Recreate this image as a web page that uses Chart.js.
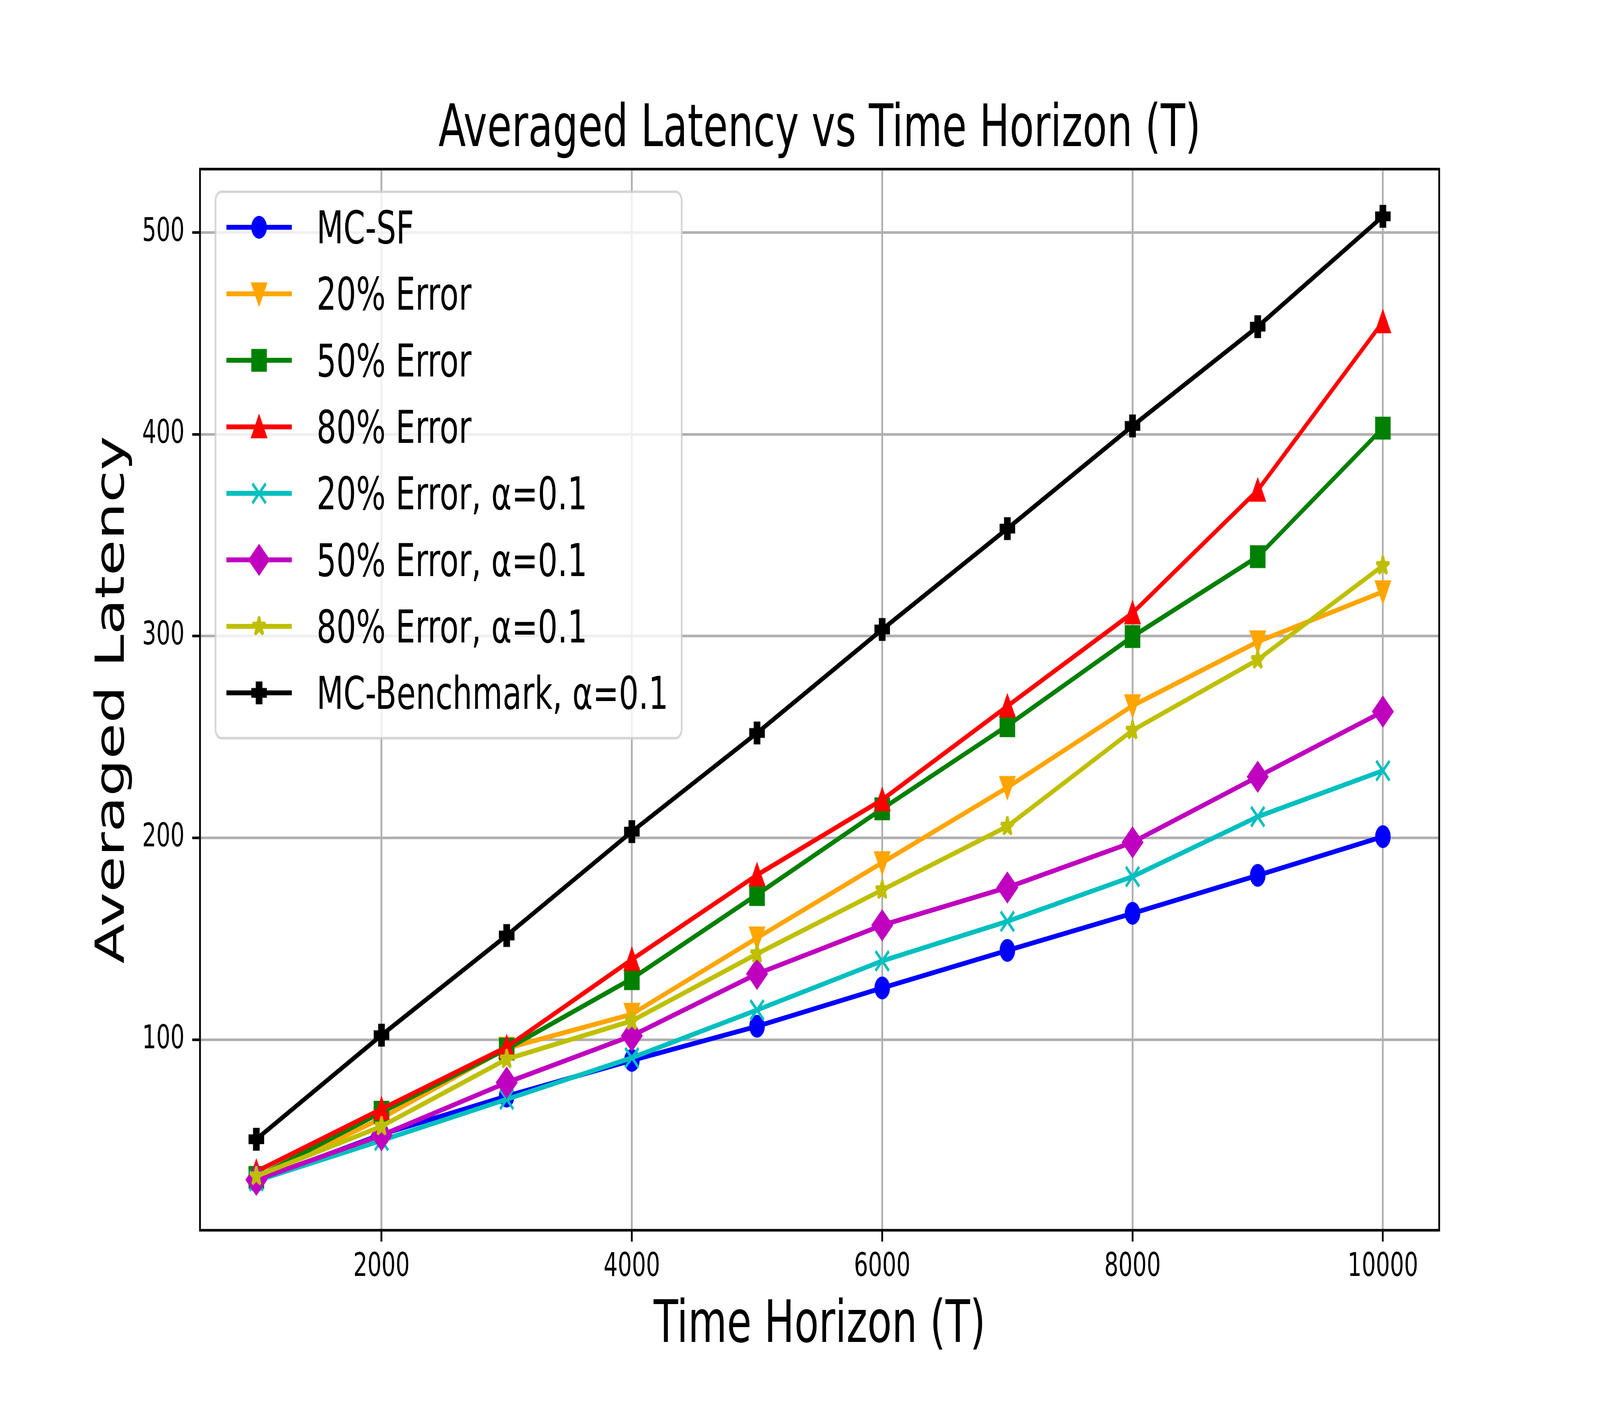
<!DOCTYPE html>
<html>
<head>
<meta charset="utf-8">
<script src="https://cdn.jsdelivr.net/npm/chart.js@4.4.1/dist/chart.umd.min.js"></script>
<style>
html,body{margin:0;padding:0;background:#fff;overflow:hidden;}
#c{display:block;}
</style>
</head>
<body>
<canvas id="c" width="6000" height="3600" style="width:100vw;height:100vh"></canvas>
<script>
// ---- data ----
const timeHorizon = [1000, 2000, 3000, 4000, 5000, 6000, 7000, 8000, 9000, 10000];
const mcSF        = [30, 53, 72, 89.7, 106.6, 125.6, 144.2, 162.6, 181.4, 200.6];
const err20       = [31, 61, 95.7, 112.6, 150.4, 187.7, 225, 265.5, 297.2, 322];
const err50       = [31.7, 64, 95.3, 130.2, 171.9, 214.4, 255.6, 299.8, 339.4, 403.1];
const err80       = [34.6, 65.6, 96.3, 139.7, 181.6, 218.9, 265.3, 311.5, 372.3, 455.8];
const err20a      = [30, 50, 70.4, 91, 114.7, 139, 158.6, 180.8, 210.5, 233.3];
const err50a      = [30.5, 52.6, 78.7, 101.9, 132.6, 156.7, 175.4, 197.8, 230.3, 262.6];
const err80a      = [32.3, 57, 90.3, 109.3, 142.5, 174.2, 205.7, 253.3, 288.3, 334.9];
const benchmark   = [50.6, 102.2, 151.6, 203.1, 252, 303.3, 353.3, 404.2, 453.4, 508.1];
const seriesLabels = ['MC-SF', '20% Error', '50% Error', '80% Error',
  '20% Error, α=0.1', '50% Error, α=0.1', '80% Error, α=0.1', 'MC-Benchmark, α=0.1'];
const seriesValues = [mcSF, err20, err50, err80, err20a, err50a, err80a, benchmark];
const xTicks = [2000, 4000, 6000, 8000, 10000];
const yTicks = [100, 200, 300, 400, 500];

// ---- styles ----
const seriesColors  = ['#0000ff', '#ffa500', '#008000', '#ff0000', '#00bfbf', '#bf00bf', '#bfbf00', '#000000'];
const seriesMarkers = ['o', 'v', 's', '^', 'x', 'D', '*', 'P'];
const FONT = "'DejaVu Sans'";
const MS = 50, EW = 8.333, LW = 12.5;

function makeMarker(kind, color) {
  const cv = document.createElement('canvas');
  cv.width = 100; cv.height = 100;
  const g = cv.getContext('2d');
  const c = 50, h = MS / 2;
  g.fillStyle = color; g.strokeStyle = color; g.lineWidth = EW; g.lineJoin = 'miter';
  g.beginPath();
  switch (kind) {
    case 'o': g.arc(c, c, h, 0, Math.PI * 2); break;
    case 'v': g.moveTo(c, c + h); g.lineTo(c - h, c - h); g.lineTo(c + h, c - h); g.closePath(); break;
    case '^': g.moveTo(c, c - h); g.lineTo(c - h, c + h); g.lineTo(c + h, c + h); g.closePath(); break;
    case 's': g.rect(c - h, c - h, MS, MS); break;
    case 'D': { const d = MS * Math.SQRT1_2; g.moveTo(c, c - d); g.lineTo(c + d, c); g.lineTo(c, c + d); g.lineTo(c - d, c); g.closePath(); break; }
    case '*': {
      g.lineJoin = 'bevel';
      const ri = h * 0.381966;
      for (let i = 0; i < 10; i++) {
        const r = (i % 2) ? ri : h;
        const a = -Math.PI / 2 + i * Math.PI / 5;
        const px = c + r * Math.cos(a), py = c + r * Math.sin(a);
        if (i) g.lineTo(px, py); else g.moveTo(px, py);
      }
      g.closePath(); break;
    }
    case 'P': {
      const pts = [[-1,-3],[1,-3],[1,-1],[3,-1],[3,1],[1,1],[1,3],[-1,3],[-1,1],[-3,1],[-3,-1],[-1,-1]];
      pts.forEach((p, i) => { const px = c + p[0] / 6 * MS, py = c + p[1] / 6 * MS; if (i) g.lineTo(px, py); else g.moveTo(px, py); });
      g.closePath(); break;
    }
    case 'x':
      g.lineCap = 'butt';
      g.moveTo(c - h, c - h); g.lineTo(c + h, c + h);
      g.moveTo(c - h, c + h); g.lineTo(c + h, c - h);
      g.stroke();
      return cv;
  }
  g.fill(); g.stroke();
  return cv;
}

const markerImgs = seriesMarkers.map((m, i) => makeMarker(m, seriesColors[i]));

const datasets = seriesValues.map((vals, i) => ({
  label: seriesLabels[i],
  data: timeHorizon.map((t, j) => ({ x: t, y: vals[j] })),
  borderColor: seriesColors[i],
  backgroundColor: seriesColors[i],
  borderWidth: LW,
  borderJoinStyle: 'round',
  borderCapStyle: 'square',
  pointStyle: markerImgs[i],
  pointRadius: 25,
  pointHoverRadius: 25,
  tension: 0,
  fill: false,
  order: seriesValues.length - i
}));

const framePlugin = {
  id: 'frame',
  afterDatasetsDraw(chart) {
    const { ctx, chartArea: a } = chart;
    ctx.save();
    ctx.strokeStyle = '#000';
    ctx.lineWidth = 6.67;
    ctx.lineJoin = 'miter';
    ctx.strokeRect(a.left, a.top, a.right - a.left, a.bottom - a.top);
    ctx.restore();
  }
};

const legendPlugin = {
  id: 'mplLegend',
  afterDraw(chart) {
    const { ctx, chartArea: a } = chart;
    const fs = 116.7;
    const x0 = a.left + 58, y0 = a.top + 58;
    const rowH = 170.3;
    const firstRow = y0 + 91;
    const lineX0 = x0 + 41, lineX1 = x0 + 286;
    const textX = x0 + 379;
    ctx.save();
    ctx.font = `normal ${fs}px ${FONT}`;
    let maxW = 0;
    seriesLabels.forEach(l => { maxW = Math.max(maxW, ctx.measureText(l).width); });
    const x1 = textX + maxW + 50;
    const y1 = firstRow + rowH * (seriesLabels.length - 1) + 116;
    const r = 23;
    ctx.beginPath();
    ctx.moveTo(x0 + r, y0);
    ctx.lineTo(x1 - r, y0); ctx.arcTo(x1, y0, x1, y0 + r, r);
    ctx.lineTo(x1, y1 - r); ctx.arcTo(x1, y1, x1 - r, y1, r);
    ctx.lineTo(x0 + r, y1); ctx.arcTo(x0, y1, x0, y1 - r, r);
    ctx.lineTo(x0, y0 + r); ctx.arcTo(x0, y0, x0 + r, y0, r);
    ctx.closePath();
    ctx.fillStyle = 'rgba(255,255,255,0.8)';
    ctx.fill();
    ctx.strokeStyle = 'rgba(204,204,204,0.8)';
    ctx.lineWidth = 6.67;
    ctx.stroke();
    seriesLabels.forEach((label, i) => {
      const yc = firstRow + i * rowH;
      ctx.beginPath();
      ctx.strokeStyle = seriesColors[i];
      ctx.lineWidth = LW;
      ctx.lineCap = 'butt';
      ctx.moveTo(lineX0, yc); ctx.lineTo(lineX1, yc);
      ctx.stroke();
      const img = markerImgs[i];
      ctx.drawImage(img, (lineX0 + lineX1) / 2 - img.width / 2, yc - img.height / 2);
      ctx.fillStyle = '#000';
      ctx.textAlign = 'left';
      ctx.textBaseline = 'alphabetic';
      ctx.fillText(label, textX, yc + 41);
    });
    ctx.restore();
  }
};

new Chart(document.getElementById('c'), {
  type: 'line',
  data: { datasets },
  plugins: [framePlugin, legendPlugin],
  options: {
    responsive: false,
    animation: false,
    devicePixelRatio: 1,
    events: [],
    layout: { padding: { left: 0, top: 0, right: 603, bottom: 0 } },
    plugins: {
      legend: { display: false },
      tooltip: { enabled: false },
      title: {
        display: true,
        text: 'Averaged Latency vs Time Horizon (T)',
        fullSize: false,
        color: '#000',
        font: { family: FONT, size: 150, weight: 'normal', lineHeight: 1.2 },
        padding: { top: 245, bottom: 8 }
      }
    },
    scales: {
      x: {
        type: 'linear',
        min: 550, max: 10450,
        afterBuildTicks: s => { s.ticks = xTicks.map(v => ({ value: v })); },
        afterFit: s => { s.height = 450; },
        grid: { color: '#b0b0b0', lineWidth: 6.67, drawTicks: true, tickLength: 29, tickColor: '#000', tickWidth: 6.67 },
        border: { display: false },
        ticks: {
          color: '#000', font: { family: FONT, size: 83.3 }, padding: 16,
          autoSkip: false, maxRotation: 0, minRotation: 0,
          callback: v => String(v)
        },
        title: {
          display: true, text: 'Time Horizon (T)', color: '#000',
          font: { family: FONT, size: 150, lineHeight: 1.2 },
          padding: { top: 0, bottom: 113 }
        }
      },
      y: {
        type: 'linear',
        min: 5.5, max: 531.5,
        afterBuildTicks: s => { s.ticks = yTicks.map(v => ({ value: v })); },
        afterFit: s => { s.width = 750; },
        grid: { color: '#b0b0b0', lineWidth: 6.67, drawTicks: true, tickLength: 29, tickColor: '#000', tickWidth: 6.67 },
        border: { display: false },
        ticks: {
          color: '#000', font: { family: FONT, size: 83.3 }, padding: 29,
          autoSkip: false,
          callback: v => String(v)
        },
        title: {
          display: true, text: 'Averaged Latency', color: '#000',
          font: { family: FONT, size: 150, lineHeight: 1.2 },
          padding: { top: 335, bottom: 0 }
        }
      }
    }
  }
});
</script>
</body>
</html>
